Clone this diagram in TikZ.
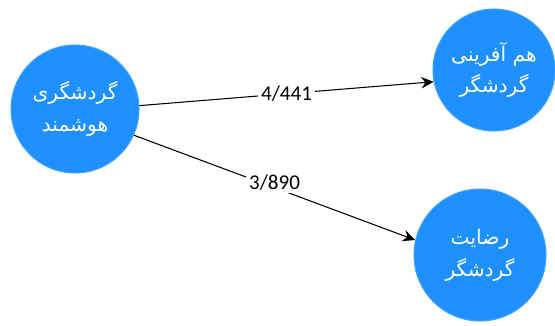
\documentclass[tikz,border=0pt]{standalone}
\usepackage{fontspec}
\usepackage{xcolor}
\usepackage{tikz}
\usetikzlibrary{arrows.meta,positioning}
\TeXXeTstate=1
\newfontfamily\arabicfont[Script=Arabic]{DejaVu Sans}
\newfontfamily\labelfont{Carlito}
\definecolor{NodeBlue}{RGB}{30,144,255}

\begin{document}
\begin{tikzpicture} [x=0.02cm, y=-0.02cm, >={Stealth[length=7pt,width=6.5pt]}, black, semithick,
	   every node/.style={font=\labelfont\fontsize{12}{14}\selectfont},
	   concept/.style = {circle, minimum size=#1, inner sep=0pt, fill=NodeBlue,
	                     draw=NodeBlue!85!white, text=white, align=center,
	                     font=\arabicfont\fontsize{11.5}{18}\selectfont},
	   weight/.style = {fill=white, inner sep=1.5pt, text=black}]
	\useasboundingbox (0,0) rectangle (555,325);
	%% Concepts
	\node [concept=2.56cm] (smart) at (75,109) {\beginR گردشگری\endR\\\beginR هوشمند\endR};
	\node [concept=2.44cm] (cocreate) at (494,70) {\beginR هم آفرینی\endR\\\beginR گردشگر\endR};
	\node [concept=2.64cm] (satisf) at (480,255) {\beginR رضایت\endR\\\beginR گردشگر\endR};

	%% Paths
	\draw[->] (smart.3) -- (cocreate.191)
	          node[weight,pos=0.5] {4/441};
	\draw[->] (smart.-24) -- (satisf.167)
	          node[weight,pos=0.5,yshift=3pt] {3/890};
\end{tikzpicture}
\end{document}
